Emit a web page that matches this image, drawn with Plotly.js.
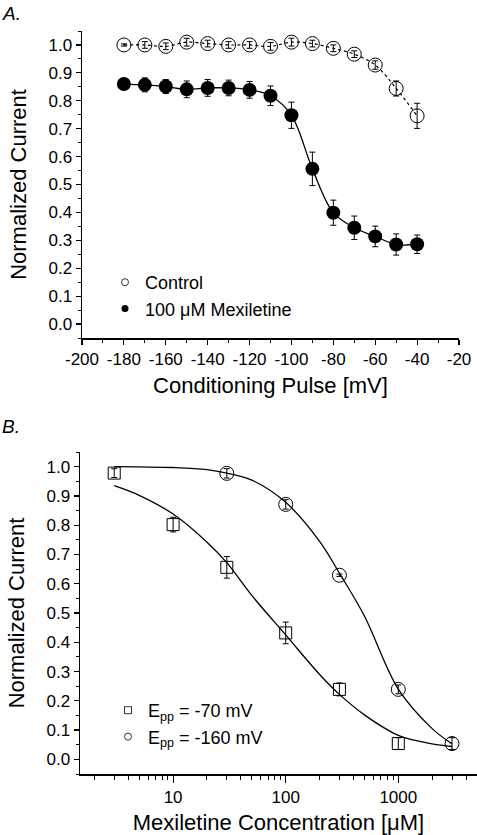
<!DOCTYPE html>
<html>
<head>
<meta charset="utf-8">
<script src="https://cdn.plot.ly/plotly-3.0.1.min.js"></script>
<style>html,body{margin:0;padding:0;background:#fff;}#chart{width:477px;height:835px;}</style>
</head>
<body>
<div id="chart"></div>
<script>
// ---------- Panel A data ----------
const pulseMV = [-180, -170, -160, -150, -140, -130, -120, -110, -100, -90, -80, -70, -60, -50, -40];
const controlCurrent = [1.0, 1.0, 0.995, 1.01, 1.005, 1.0, 1.0, 0.995, 1.01, 1.005, 0.988, 0.967, 0.928, 0.844, 0.746];
const controlErr = [0.004, 0.012, 0.012, 0.014, 0.012, 0.012, 0.012, 0.014, 0.014, 0.012, 0.012, 0.012, 0.015, 0.027, 0.045];
const mexCurrent = [0.86, 0.857, 0.851, 0.841, 0.846, 0.846, 0.839, 0.818, 0.748, 0.556, 0.399, 0.345, 0.314, 0.285, 0.286];
const mexErr = [0.015, 0.025, 0.025, 0.03, 0.03, 0.028, 0.03, 0.035, 0.047, 0.06, 0.045, 0.042, 0.037, 0.038, 0.033];
const pulseTicks = [-200, -180, -160, -140, -120, -100, -80, -60, -40, -20];

// ---------- Panel B data ----------
const conc70 = [3, 10, 30, 100, 300, 1000];
const cur70 = [0.978, 0.802, 0.656, 0.432, 0.239, 0.054];
const err70 = [0.015, 0.025, 0.037, 0.037, 0.022, 0.02];
const conc160 = [30, 100, 300, 1000, 3000];
const cur160 = [0.977, 0.871, 0.629, 0.239, 0.054];
const err160 = [0.016, 0.016, 0.004, 0.015, 0.02];
// fitted curves
const fitConc70 = [3, 5, 10, 20, 30, 50, 100, 200, 300, 500, 1000, 2000, 3000];
const fitCur70 = [0.935, 0.902, 0.838, 0.742, 0.672, 0.56, 0.425, 0.29, 0.222, 0.152, 0.082, 0.053, 0.044];
const fitConc160 = [3, 5, 10, 20, 30, 50, 100, 200, 300, 500, 1000, 2000, 3000];
const fitCur160 = [1.0, 0.999, 0.997, 0.99, 0.978, 0.954, 0.878, 0.745, 0.636, 0.49, 0.24, 0.105, 0.053];
const concTicks = [10, 100, 1000];

const W = 477, H = 835;
const FONT = 'Liberation Sans, Arial, Helvetica, sans-serif';
const px = v => v / W;
const py = v => 1 - v / H;

function minorLog() {
  const v = [];
  [1, 10, 100, 1000].forEach(d => { for (let k = 2; k <= 9; k++) v.push(k * d); });
  return v;
}

const errStyle = (arr) => ({type: 'data', array: arr, visible: true, color: '#000', thickness: 1, width: 3});

const traces = [
  // Panel A
  {x: pulseMV, y: controlCurrent, xaxis: 'x', yaxis: 'y', mode: 'lines+markers', showlegend: false,
   line: {color: '#000', width: 1.2, dash: 'dot', shape: 'spline'},
   marker: {symbol: 'circle', size: 14, color: 'rgba(255,255,255,0)', line: {color: '#000', width: 1}},
   error_y: errStyle(controlErr)},
  {x: pulseMV, y: mexCurrent, xaxis: 'x', yaxis: 'y', mode: 'lines+markers', showlegend: false,
   line: {color: '#000', width: 1.3, shape: 'spline'},
   marker: {symbol: 'circle', size: 14, color: '#000'},
   error_y: errStyle(mexErr)},
  // legend entries A
  {x: [null], y: [null], xaxis: 'x', yaxis: 'y', mode: 'markers', name: 'Control', legend: 'legend',
   marker: {symbol: 'circle', size: 7, color: '#fff', line: {color: '#000', width: 0.8}}},
  {x: [null], y: [null], xaxis: 'x', yaxis: 'y', mode: 'markers', name: '100 \u03bcM Mexiletine', legend: 'legend',
   marker: {symbol: 'circle', size: 7, color: '#000'}},
  // Panel B curves
  {x: fitConc70, y: fitCur70, xaxis: 'x2', yaxis: 'y2', mode: 'lines', showlegend: false,
   line: {color: '#000', width: 1.3, shape: 'spline', smoothing: 1}},
  {x: fitConc160, y: fitCur160, xaxis: 'x2', yaxis: 'y2', mode: 'lines', showlegend: false,
   line: {color: '#000', width: 1.3, shape: 'spline', smoothing: 1}},
  {x: conc70, y: cur70, xaxis: 'x2', yaxis: 'y2', mode: 'markers', showlegend: false,
   marker: {symbol: 'square', size: 12, color: 'rgba(255,255,255,0)', line: {color: '#000', width: 1}},
   error_y: errStyle(err70)},
  {x: conc160, y: cur160, xaxis: 'x2', yaxis: 'y2', mode: 'markers', showlegend: false,
   marker: {symbol: 'circle', size: 14, color: 'rgba(255,255,255,0)', line: {color: '#000', width: 1}},
   error_y: errStyle(err160)},
  // legend entries B
  {x: [null], y: [null], xaxis: 'x2', yaxis: 'y2', mode: 'markers', legend: 'legend2',
   name: '<span style="color:#000">E<sub>pp</sub> = -70 mV</span>',
   marker: {symbol: 'square', size: 7, color: '#fff', line: {color: '#000', width: 0.8}}},
  {x: [null], y: [null], xaxis: 'x2', yaxis: 'y2', mode: 'markers', legend: 'legend2',
   name: '<span style="color:#000">E<sub>pp</sub> = -160 mV</span>',
   marker: {symbol: 'circle', size: 7, color: '#fff', line: {color: '#000', width: 0.8}}}
];

const TICKF = {family: FONT, size: 17, color: '#000'};
const TITLEF = {family: FONT, size: 22, color: '#000'};

const axBase = {
  showline: true, linecolor: '#000', linewidth: 1.5, mirror: false,
  ticks: 'outside', ticklen: 5, tickwidth: 1.2, tickcolor: '#000',
  showgrid: false, zeroline: false,
  tickfont: TICKF
};

const layout = {
  width: W, height: H,
  margin: {l: 0, r: 0, t: 0, b: 0},
  paper_bgcolor: '#fff', plot_bgcolor: '#fff',
  font: {family: FONT, color: '#000'},
  xaxis: Object.assign({}, axBase, {
    domain: [px(82), px(459)], anchor: 'y', range: [-200, -20],
    tickmode: 'array', tickvals: pulseTicks, ticktext: pulseTicks.map(String),
    minor: {ticks: 'outside', dtick: 10, tick0: -200, ticklen: 3, tickcolor: '#000', tickwidth: 1},
    title: {text: 'Conditioning Pulse [mV]', font: TITLEF, standoff: 9}
  }),
  yaxis: Object.assign({}, axBase, {
    domain: [py(338), py(31)], anchor: 'x', range: [-0.05, 1.05],
    tickmode: 'linear', tick0: 0, dtick: 0.1, tickformat: '.1f',
    minor: {ticks: 'outside', dtick: 0.05, tick0: 0, ticklen: 3, tickcolor: '#000', tickwidth: 1},
    title: {text: 'Normalized Current', font: TITLEF, standoff: 16}
  }),
  xaxis2: Object.assign({}, axBase, {
    domain: [px(80), 1], anchor: 'y2', type: 'log', range: [Math.log10(1.49), Math.log10(5000)],
    tickmode: 'array', tickvals: concTicks, ticktext: concTicks.map(String), ticklen: 7,
    minor: {ticks: 'outside', tickmode: 'array', tickvals: minorLog(), ticklen: 4, tickcolor: '#000', tickwidth: 1},
    title: {text: 'Mexiletine Concentration [\u03bcM]', font: TITLEF, standoff: 9}
  }),
  yaxis2: Object.assign({}, axBase, {
    domain: [py(774), py(452)], anchor: 'x2', range: [-0.05, 1.05],
    tickmode: 'linear', tick0: 0, dtick: 0.1, tickformat: '.1f',
    minor: {ticks: 'outside', dtick: 0.05, tick0: 0, ticklen: 3, tickcolor: '#000', tickwidth: 1},
    title: {text: 'Normalized Current', font: TITLEF, standoff: 16}
  }),
  legend: {x: px(105), y: py(264), xanchor: 'left', yanchor: 'top', bgcolor: 'rgba(0,0,0,0)',
    font: {family: FONT, size: 18, color: '#000'}, itemsizing: 'trace', tracegroupgap: 0},
  legend2: {x: px(108), y: py(692), xanchor: 'left', yanchor: 'top', bgcolor: 'rgba(0,0,0,0)',
    font: {family: FONT, size: 18, color: '#000'}, itemsizing: 'trace', tracegroupgap: 0},
  annotations: [
    {text: '<i>A.</i>', xref: 'paper', yref: 'paper', x: 0, y: py(1), xanchor: 'left', yanchor: 'top',
     showarrow: false, font: {family: FONT, size: 19, color: '#000'}},
    {text: '<i>B.</i>', xref: 'paper', yref: 'paper', x: 0, y: py(414), xanchor: 'left', yanchor: 'top',
     showarrow: false, font: {family: FONT, size: 19, color: '#000'}}
  ]
};

Plotly.newPlot('chart', traces, layout, {staticPlot: true, displayModeBar: false});
</script>
</body>
</html>
